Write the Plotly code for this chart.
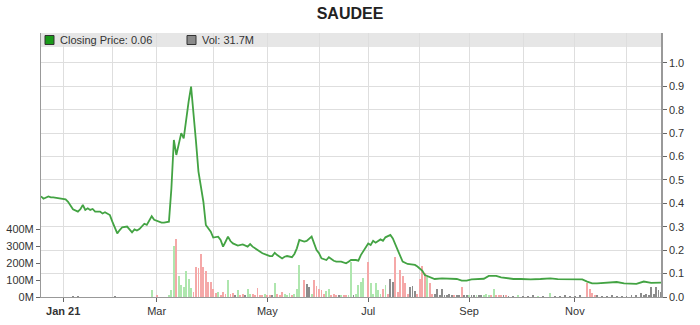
import plotly.graph_objects as go

# ---- data ----
title = "SAUDEE"
# trading-day index (0 = first day shown) and closing price
price_day = [0, 1, 3, 4, 5, 8, 10, 11, 12, 13, 15, 16, 17, 18, 19, 20, 21, 22, 24, 25, 26, 28, 29, 30, 31, 32, 33, 35, 36, 37,
             38, 39, 40, 41, 42, 43, 45, 46, 48, 49, 50, 52, 53, 54, 55, 56, 57, 58, 59, 60, 61, 62, 63, 64, 66, 67, 69, 70,
             72, 73, 74, 75, 76, 77, 78, 80, 81, 82, 84, 85, 86, 88, 89, 90, 92, 93, 94, 95, 96, 98, 99, 100, 102, 103, 104,
             105, 107, 108, 110, 111, 112, 113, 114, 116, 117, 119, 120, 122, 124, 125, 126, 128, 129, 130, 132, 133, 134,
             135, 136, 138, 139, 140, 142, 143, 145, 146, 147, 149, 152, 153, 155, 156, 158, 160, 163, 166, 169, 171, 173,
             175, 178, 180, 182, 185, 187, 189, 192, 195, 199, 203, 207, 210, 212, 216, 220, 222, 224, 226, 230, 234, 237,
             239, 242, 245, 248, 252]
price_val = [0.43, 0.42, 0.43, 0.426, 0.426, 0.42, 0.417, 0.407, 0.393, 0.375, 0.365, 0.375, 0.393, 0.372, 0.379, 0.372,
             0.376, 0.365, 0.365, 0.357, 0.362, 0.35, 0.322, 0.293, 0.272, 0.286, 0.298, 0.301, 0.289, 0.276, 0.289, 0.284,
             0.29, 0.303, 0.313, 0.308, 0.345, 0.33, 0.32, 0.318, 0.318, 0.322, 0.464, 0.671, 0.607, 0.656, 0.70, 0.678,
             0.763, 0.835, 0.899, 0.792, 0.664, 0.536, 0.407, 0.308, 0.279, 0.254, 0.258, 0.244, 0.215, 0.236, 0.258,
             0.239, 0.229, 0.22, 0.222, 0.225, 0.215, 0.226, 0.215, 0.201, 0.194, 0.187, 0.179, 0.175, 0.175, 0.189,
             0.179, 0.165, 0.172, 0.175, 0.17, 0.184, 0.208, 0.244, 0.237, 0.24, 0.258, 0.229, 0.201, 0.187, 0.165,
             0.158, 0.17, 0.155, 0.151, 0.151, 0.144, 0.151, 0.158, 0.158, 0.155, 0.179, 0.215, 0.229, 0.222, 0.24,
             0.232, 0.246, 0.24, 0.255, 0.265, 0.25, 0.20, 0.172, 0.151, 0.141, 0.137, 0.13, 0.112, 0.094, 0.084, 0.077,
             0.08, 0.08, 0.077, 0.07, 0.07, 0.075, 0.075, 0.078, 0.09, 0.09, 0.084, 0.08, 0.077, 0.077, 0.075, 0.077,
             0.08, 0.076, 0.076, 0.073, 0.075, 0.066, 0.058, 0.058, 0.062, 0.064, 0.058, 0.058, 0.056, 0.066, 0.06, 0.061]

# volume (millions) per trading day, with direction u=up, d=down, n=unchanged
vol_day = [13, 15, 30, 45, 47, 52, 53, 54, 55, 56, 57, 58, 59, 60, 61, 62, 63, 64, 65, 66, 67, 68, 69, 70, 71, 72, 73, 74,
           75, 76, 77, 78, 79, 80, 81, 82, 83, 84, 85, 86, 87, 88, 89, 90, 91, 92, 93, 94, 95, 96, 97, 98, 99, 100, 101,
           102, 103, 104, 105, 107, 108, 109, 110, 111, 112, 113, 114, 115, 116, 117, 118, 119, 120, 121, 122, 123, 124,
           125, 126, 127, 128, 129, 130, 131, 133, 134, 135, 136, 137, 138, 139, 140, 141, 142, 143, 144, 145, 146, 147,
           148, 149, 150, 151, 152, 153, 154, 155, 156, 157, 158, 159, 160, 161, 162, 163, 164, 165, 166, 167, 168, 169,
           170, 171, 172, 173, 174, 175, 176, 177, 178, 179, 180, 181, 182, 183, 184, 185, 186, 187, 188, 189, 190, 192,
           194, 196, 198, 200, 202, 204, 207, 209, 211, 213, 215, 217, 219, 222, 223, 224, 225, 226, 228, 230, 232, 234,
           236, 238, 240, 242, 244, 245, 246, 247, 248, 249, 250, 251, 252]
vol_m = [5, 3, 4, 40, 6, 8, 41, 300, 340, 125, 70, 60, 155, 105, 53, 30, 178, 169, 255, 175, 155, 88, 86, 50, 22, 31, 12,
         31, 20, 100, 15, 25, 8, 43, 10, 15, 6, 50, 15, 20, 8, 51, 10, 8, 15, 10, 12, 6, 84, 15, 8, 30, 20, 12, 25, 12,
         18, 50, 188, 100, 78, 60, 20, 100, 65, 45, 41, 15, 35, 50, 12, 20, 10, 8, 12, 10, 8, 10, 205, 10, 15, 70, 90,
         110, 208, 80, 20, 85, 41, 20, 45, 70, 20, 104, 90, 235, 30, 160, 124, 80, 20, 58, 62, 37, 15, 105, 185, 140,
         119, 85, 15, 20, 50, 10, 50, 12, 10, 18, 8, 10, 12, 8, 60, 8, 6, 10, 8, 6, 12, 8, 6, 10, 15, 12, 8, 50, 10, 8,
         12, 6, 8, 5, 4, 6, 5, 4, 6, 5, 4, 22, 5, 4, 6, 5, 4, 6, 80, 45, 25, 12, 6, 5, 4, 6, 5, 4, 5, 6, 8, 22, 8, 15,
         10, 57, 20, 57, 41, 31.7]
vol_dir = ['n', 'n', 'n', 'u', 'd', 'u', 'u', 'u', 'd', 'u', 'u', 'u', 'u', 'u', 'u', 'd', 'd', 'd', 'd', 'd', 'd', 'd',
           'd', 'd', 'd', 'u', 'd', 'd', 'd', 'u', 'd', 'd', 'n', 'u', 'd', 'd', 'n', 'u', 'u', 'd', 'd', 'd', 'd', 'd',
           'u', 'd', 'd', 'n', 'u', 'd', 'd', 'd', 'u', 'u', 'u', 'd', 'u', 'u', 'u', 'd', 'n', 'n', 'u', 'd', 'd', 'd',
           'd', 'd', 'u', 'u', 'd', 'd', 'd', 'n', 'u', 'd', 'd', 'u', 'u', 'n', 'u', 'u', 'u', 'u', 'd', 'u', 'u', 'u',
           'u', 'u', 'd', 'u', 'd', 'n', 'n', 'd', 'd', 'd', 'd', 'd', 'd', 'n', 'n', 'n', 'd', 'd', 'd', 'd', 'u', 'd',
           'd', 'n', 'n', 'n', 'n', 'n', 'n', 'n', 'n', 'd', 'n', 'n', 'd', 'n', 'n', 'u', 'n', 'n', 'u', 'n', 'n', 'u',
           'u', 'u', 'd', 'u', 'd', 'd', 'd', 'n', 'd', 'n', 'n', 'u', 'n', 'n', 'n', 'u', 'n', 'u', 'n', 'n', 'n', 'n',
           'n', 'n', 'd', 'd', 'd', 'd', 'n', 'n', 'n', 'n', 'n', 'n', 'n', 'n', 'n', 'n', 'n', 'n', 'n', 'n', 'n', 'n',
           'n', 'n']

# month starts (trading-day index) and labels
month_day = [9, 29, 47, 70, 92, 113, 133, 154, 174, 196, 217, 238]
month_lbl = ["Jan 21", "Feb", "Mar", "Apr", "May", "Jun", "Jul", "Aug", "Sep", "Oct", "Nov", "Dec"]
last_day = 252
legend_price = "Closing Price: 0.06"
legend_vol = "Vol: 31.7M"

# ---- figure ----
dir_color = {'u': '#aee6ae', 'd': '#f5a8a8', 'n': '#8c8c8c'}
bar_colors = [dir_color[d] for d in vol_dir]

fig = go.Figure()
fig.add_trace(go.Bar(x=vol_day, y=[v * 1e6 for v in vol_m], marker=dict(color=bar_colors, line=dict(width=0)),
                     width=0.36, yaxis="y", showlegend=False, hoverinfo="skip"))
fig.add_trace(go.Scatter(x=price_day, y=price_val, mode="lines", line=dict(color="#43a343", width=1.8),
                         yaxis="y2", showlegend=False))

major_idx = [i for i in range(len(month_day)) if i % 2 == 0]
minor_idx = [i for i in range(len(month_day)) if i % 2 == 1]
ticktext = [("<b>%s</b>" % month_lbl[i]) if i == 0 else month_lbl[i] for i in major_idx]

grid = "#dedede"
fig.update_layout(
    width=700, height=325,
    margin=dict(l=41, r=39, t=33, b=28, autoexpand=False),
    paper_bgcolor="white", plot_bgcolor="white",
    title=dict(text="<b>%s</b>" % title, x=0.5, xanchor="center", y=0.96, yanchor="middle",
               font=dict(family="Liberation Sans, Arial, sans-serif", size=16, color="#222")),
    font=dict(family="Liberation Sans, Arial, sans-serif", size=11, color="#333"),
    bargap=0,
    xaxis=dict(range=[0, last_day], tickmode="array", tickvals=[month_day[i] for i in major_idx],
               ticktext=ticktext, showgrid=True, gridcolor=grid, gridwidth=1, automargin=False,
               ticks="outside", ticklen=4, tickcolor="#666", showline=True, linecolor="#999", linewidth=1,
               zeroline=False, tickfont=dict(size=11, color="#333"),
               minor=dict(tickmode="array", tickvals=[month_day[i] for i in minor_idx], showgrid=True,
                          gridcolor=grid, ticks="")),
    yaxis=dict(side="left", range=[0, 1553e6], tickmode="array", automargin=False,
               tickvals=[0, 100e6, 200e6, 300e6, 400e6], ticktext=["0M", "100M", "200M", "300M", "400M"],
               showgrid=False, zeroline=False, ticks="outside", ticklen=4, tickcolor="#666",
               showline=True, linecolor="#999", linewidth=1, tickfont=dict(size=11, color="#333")),
    yaxis2=dict(side="right", overlaying="y", range=[0, 1.128], tickmode="array", automargin=False,
                tickvals=[i / 10 for i in range(11)], ticktext=["%.1f" % (i / 10) for i in range(11)],
                showgrid=True, gridcolor=grid, zeroline=False, ticks="outside", ticklen=4, tickcolor="#666",
                showline=True, linecolor="#999", linewidth=1.5, tickfont=dict(size=11, color="#333")),
)

# legend band
band_h = 14 / 264
fig.add_shape(type="rect", xref="paper", yref="paper", x0=0, x1=1, y0=1 - band_h, y1=1,
              fillcolor="#e6e6e6", line=dict(width=0), layer="below")
sq_h = 9 / 264
sq_w = 9 / 620
fig.add_shape(type="rect", xref="paper", yref="paper", x0=4 / 620, x1=4 / 620 + sq_w,
              y0=1 - 2.5 / 264 - sq_h, y1=1 - 2.5 / 264, fillcolor="#1a9a1a", line=dict(color="#333", width=1))
fig.add_shape(type="rect", xref="paper", yref="paper", x0=146 / 620, x1=146 / 620 + sq_w,
              y0=1 - 2.5 / 264 - sq_h, y1=1 - 2.5 / 264, fillcolor="#8a8a8a", line=dict(color="#333", width=1))
fig.add_annotation(xref="paper", yref="paper", x=17 / 620, y=1 - 7 / 264, text=legend_price, showarrow=False,
                   xanchor="left", yanchor="middle", font=dict(size=11, color="#333"))
fig.add_annotation(xref="paper", yref="paper", x=159 / 620, y=1 - 7 / 264, text=legend_vol, showarrow=False,
                   xanchor="left", yanchor="middle", font=dict(size=11, color="#333"))

fig.write_html("out.html")
